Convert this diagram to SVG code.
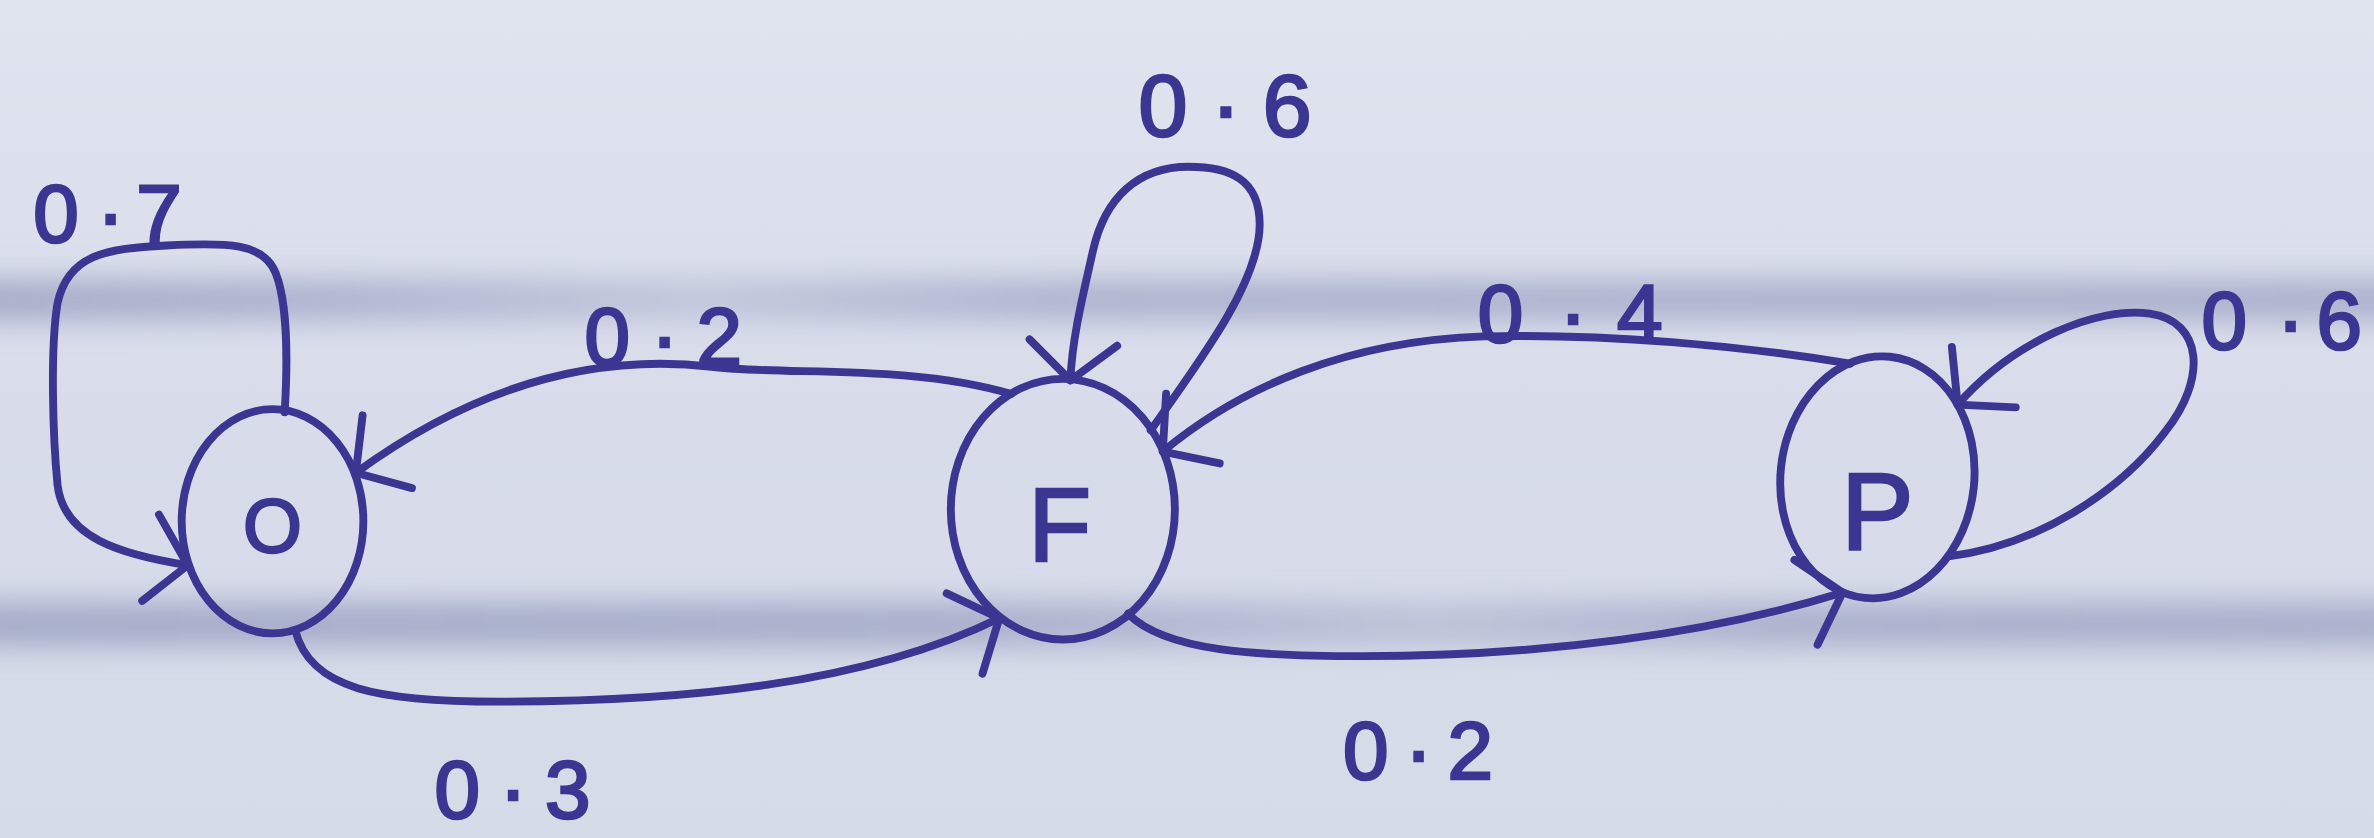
<svg xmlns="http://www.w3.org/2000/svg" width="2374" height="838" viewBox="0 0 2374 838">
<defs>
<style>
.ink{fill:none;stroke:#3b3692;stroke-width:5.2;stroke-linecap:round;stroke-linejoin:round}
.lbl{font-family:"Liberation Sans","DejaVu Sans",sans-serif;font-size:54px;fill:#3b3692;stroke:#3b3692;stroke-width:1.8}
.nlbl{font-family:"Liberation Sans","DejaVu Sans",sans-serif;fill:#3b3692;stroke:#3b3692;stroke-width:1.6;text-anchor:middle}
.edge{marker-end:url(#arr)}
</style>
<linearGradient id="paper" x1="0" y1="0" x2="0" y2="1">
<stop offset="0" stop-color="#e0e4ef"/>
<stop offset="0.5" stop-color="#d8dcea"/>
<stop offset="1" stop-color="#d6dbe8"/>
</linearGradient>
<linearGradient id="band1" x1="0" y1="0" x2="1" y2="0">
<stop offset="0" stop-color="#a3aac8" stop-opacity="0.95"/>
<stop offset="0.15" stop-color="#a3aac8" stop-opacity="0.8"/>
<stop offset="0.3" stop-color="#a3aac8" stop-opacity="0.45"/>
<stop offset="0.45" stop-color="#a3aac8" stop-opacity="0.8"/>
<stop offset="1" stop-color="#a3aac8" stop-opacity="0.85"/>
</linearGradient>
<linearGradient id="band2" x1="0" y1="0" x2="1" y2="0">
<stop offset="0" stop-color="#a3aac8" stop-opacity="0.95"/>
<stop offset="0.4" stop-color="#a3aac8" stop-opacity="0.9"/>
<stop offset="0.6" stop-color="#a3aac8" stop-opacity="0.5"/>
<stop offset="0.75" stop-color="#a3aac8" stop-opacity="0.85"/>
<stop offset="1" stop-color="#a3aac8" stop-opacity="0.9"/>
</linearGradient>
<filter id="blur" x="-5%" y="-150%" width="110%" height="400%">
<feGaussianBlur stdDeviation="9"/>
</filter>
<marker id="arr" markerUnits="userSpaceOnUse" viewBox="-40 -35 50 70" markerWidth="50" markerHeight="70" refX="0" refY="0" orient="auto">
<path d="M-24 -30 L0 0 L-26 28" fill="none" stroke="#3b3692" stroke-width="5.2" stroke-linecap="round" stroke-linejoin="round"/>
</marker>
</defs>
<g transform="scale(1.51403 1.51537)">
<g id="paper-bg">
<rect width="1568" height="553" fill="url(#paper)"/>
<rect x="-20" y="184" width="1610" height="28" fill="url(#band1)" filter="url(#blur)"/>
<rect x="-20" y="397" width="1610" height="30" fill="url(#band2)" filter="url(#blur)"/>
</g>
<g id="connectors">
<g id="edge-O-O">
<path class="ink edge" d="M188 272 C190 240 190 200 182 180 C174 160 150 160 110 162 C70 164 45 168 38 200 C33 230 35 290 38 320 C42 355 80 366 124 373"/>
<text class="lbl" x="22 64 90" y="160">0·7</text>
</g>
<g id="edge-F-O">
<path class="ink edge" d="M668 260 C600 240 520 248 470 242 C400 234 320 250 235 312"/>
<text class="lbl" x="386 430 460" y="241">0·2</text>
</g>
<g id="edge-O-F">
<path class="ink edge" d="M195 416 C205 455 250 463 330 463 C450 463 570 452 660 408"/>
<text class="lbl" x="287 330 360" y="540">0·3</text>
</g>
<g id="edge-F-F">
<path class="ink edge" d="M760 284 C795 235 832 185 832 148 C832 118 812 110 785 110 C752 110 730 130 722 165 C714 200 708 225 707 251"/>
<text class="lbl" x="752 800 834" y="90" style="font-size:58px">0·6</text>
</g>
<g id="edge-P-F">
<path class="ink edge" d="M1222 240 C1150 228 1060 220 980 222 C890 225 820 255 768 298"/>
<text class="lbl" x="976 1030 1068" y="226">0·4</text>
</g>
<g id="edge-F-P">
<path class="ink edge" d="M745 405 C770 430 830 433 900 433 C1020 433 1130 418 1217 391"/>
<text class="lbl" x="887 928 956" y="514">0·2</text>
</g>
<g id="edge-P-P">
<path class="ink edge" d="M1288 367 C1345 360 1400 325 1430 285 C1458 250 1455 212 1420 207 C1385 202 1330 225 1293 267"/>
<text class="lbl" x="1454 1504 1530" y="230">0·6</text>
</g>
</g>
<g id="node-O">
<ellipse class="ink" cx="180" cy="344" rx="60" ry="74"/>
<text class="nlbl" x="180" y="364" style="font-size:50px">O</text>
</g>
<g id="node-F">
<ellipse class="ink" cx="702" cy="336" rx="74" ry="86"/>
<text class="nlbl" x="700" y="370" style="font-size:68px">F</text>
</g>
<g id="node-P">
<ellipse class="ink" cx="1240" cy="315" rx="64" ry="80" transform="rotate(6 1240 315)"/>
<text class="nlbl" x="1240" y="362" style="font-size:72px">P</text>
</g>
</g>
</svg>
